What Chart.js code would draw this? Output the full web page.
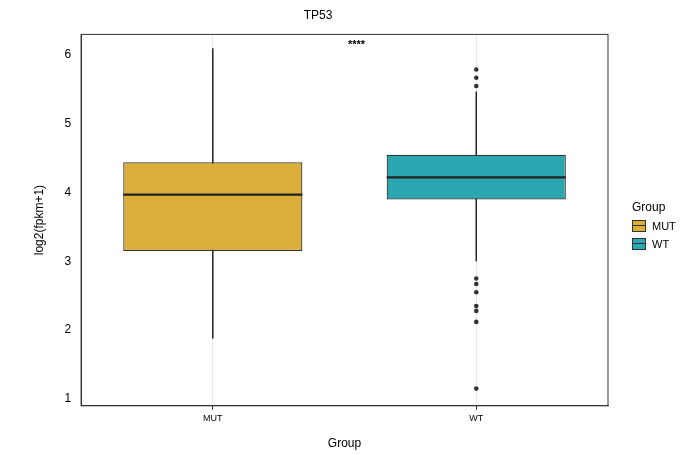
<!DOCTYPE html>
<html><head><meta charset="utf-8">
<script src="https://cdn.jsdelivr.net/npm/chart.js@4/dist/chart.umd.min.js"></script>
<style>body{margin:0;background:#fff;font-family:"Liberation Sans",Arial,sans-serif}
#wrap{position:relative;width:697px;height:455px}
#leg{position:absolute;left:632px;top:200px;font-size:12px;color:#000}
.it{display:flex;align-items:center;margin-top:6px;font-size:11px}
.sw{width:14px;height:12px;border:1px solid #333;margin-right:6px;box-sizing:border-box;position:relative}
.sw:after{content:"";position:absolute;left:0;right:0;top:4px;border-top:1px solid #333}
</style></head><body>
<div id="wrap"><canvas id="c" width="697" height="455"></canvas>
<div id="leg"><div style="font-size:12px">Group</div>
<div class="it"><div class="sw" style="background:#DBAE39"></div>MUT</div>
<div class="it"><div class="sw" style="background:#2AA7B0"></div>WT</div></div></div>
<script>
const categories=["MUT","WT"];
const q1=[3.15,3.90], q3=[4.44,4.55], medians=[3.97,4.22];
const whiskerLow=[1.88,3.0], whiskerHigh=[6.1,5.47];
const outliersWT=[5.79,5.67,5.55,2.75,2.67,2.55,2.35,2.28,2.12,1.15];
const colors=["#DBAE39","#2AA7B0"];
const yTicks=[1,2,3,4,5,6];
const sigLabel="****", sigY=6.14;
const whiskerPlugin={id:'wh',beforeDatasetsDraw(ch){
 const x=ch.scales.x,y=ch.scales.y,c=ch.ctx;c.save();c.strokeStyle="#222";c.lineWidth=1.5;
 categories.forEach((k,i)=>{const px=x.getPixelForValue(i);c.beginPath();
  c.moveTo(px,y.getPixelForValue(whiskerLow[i]));c.lineTo(px,y.getPixelForValue(whiskerHigh[i]));c.stroke();});
 c.restore();},
 afterDatasetsDraw(ch){const x=ch.scales.x,y=ch.scales.y,c=ch.ctx;c.save();
 const m=ch.getDatasetMeta(0);
 categories.forEach((k,i)=>{const b=m.data[i];const py=y.getPixelForValue(medians[i]);
  c.strokeStyle="#222";c.lineWidth=2.2;c.beginPath();c.moveTo(b.x-b.width/2,py);c.lineTo(b.x+b.width/2,py);c.stroke();});
 c.fillStyle="#000";c.font="bold 11px 'Liberation Sans'";c.textAlign="center";c.textBaseline="middle";
 c.fillText(sigLabel,(x.getPixelForValue(0)+x.getPixelForValue(1))/2+12,y.getPixelForValue(sigY));
 const a=ch.chartArea;c.strokeStyle="#333";c.lineWidth=1;c.strokeRect(a.left,a.top,a.right-a.left,a.bottom-a.top);
 c.restore();}};
new Chart(document.getElementById('c'),{
 data:{labels:categories,datasets:[
  {type:'bar',data:categories.map((k,i)=>[q1[i],q3[i]]),backgroundColor:colors,borderColor:"#333",borderWidth:1.2,borderSkipped:false,barPercentage:0.68,categoryPercentage:1},
  {type:'scatter',data:outliersWT.map(v=>({x:"WT",y:v})),pointRadius:2.3,backgroundColor:"#333",borderWidth:0}
 ]},
 options:{responsive:false,animation:false,
  layout:{padding:{left:28,right:89,top:8,bottom:0}},
  plugins:{legend:{display:false},tooltip:{enabled:false},
   title:{display:true,text:"TP53",color:"#000",font:{size:12,weight:'normal',family:"Liberation Sans"},padding:{top:0,bottom:12}}},
  scales:{
   x:{type:'category',offset:true,grid:{offset:false,color:"#e6e6e6",drawTicks:true,tickLength:4,tickColor:"#333"},border:{color:"#333"},
    ticks:{color:"#000",font:{size:9,family:"Liberation Sans"}},
    title:{display:true,text:"Group",color:"#000",font:{size:12,family:"Liberation Sans"},padding:{top:10}}},
   y:{min:0.9,max:6.3,afterBuildTicks:s=>{s.ticks=yTicks.map(v=>({value:v}))},grid:{display:false,drawTicks:true,tickLength:4,tickColor:"#333"},border:{color:"#333"},
    ticks:{color:"#000",font:{size:12,family:"Liberation Sans"},padding:6},
    title:{display:true,text:"log2(fpkm+1)",color:"#000",font:{size:12,family:"Liberation Sans"},padding:{bottom:12}}}
  }},
 plugins:[whiskerPlugin]});
</script></body></html>
